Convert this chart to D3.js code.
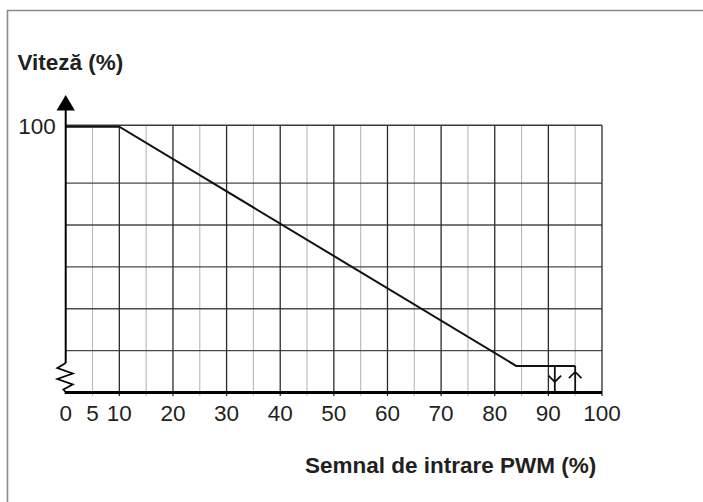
<!DOCTYPE html>
<html><head><meta charset="utf-8">
<script src="https://cdn.jsdelivr.net/npm/d3@7"></script>
<style>body{margin:0;background:#fff}svg{display:block}text{font-family:"Liberation Sans",Arial,Helvetica,sans-serif;fill:#231f20}</style>
</head><body><svg id="c" width="703" height="502"></svg>
<script>
// data
const xTicks = [0, 5, 10, 20, 30, 40, 50, 60, 70, 80, 90, 100];
const xGridMajor = [10, 20, 30, 40, 50, 60, 70, 80, 90, 100];
const xGridMinor = [5, 15, 25, 35, 45, 55, 65, 75, 85, 95];
const yGrid = [15.75, 31.5, 47.25, 63, 78.75];
const yTicks = [100];
const pwm = [0, 10, 84, 95];
const speed = [100, 100, 10, 10];
const hystDown = 91.2;   // arrow pointing down
const hystUp = 95;       // arrow pointing up
const xTitle = "Semnal de intrare PWM (%)";
const yTitle = "Viteză (%)";

const svg = d3.select("#c");
const x = d3.scaleLinear().domain([0, 100]).range([65.7, 602]);
const y = d3.scaleLinear().domain([0, 100.5]).range([392.5, 125.3]);
const yTop = y.range()[1], yBot = y.range()[0];

// outer frame (top and left only)
svg.append("path").attr("d", "M7.5,502V10.5H703").attr("fill", "none").attr("stroke", "#8a8a8a").attr("stroke-width", 1.6);

// minor vertical grid
svg.selectAll(".vmin").data(xGridMinor).join("line")
  .attr("x1", d => x(d)).attr("x2", d => x(d)).attr("y1", yTop).attr("y2", yBot + 3.5)
  .attr("stroke", "#b8b8b8").attr("stroke-width", 1.1);
// horizontal grid
svg.selectAll(".hg").data(yGrid).join("line")
  .attr("x1", x(0)).attr("x2", x(100)).attr("y1", d => y(d)).attr("y2", d => y(d))
  .attr("stroke", "#4a4a4a").attr("stroke-width", 1.3);
// major vertical grid
svg.selectAll(".vmaj").data(xGridMajor).join("line")
  .attr("x1", d => x(d)).attr("x2", d => x(d)).attr("y1", yTop).attr("y2", yBot + 3.5)
  .attr("stroke", "#2a2a2a").attr("stroke-width", 1.3);
// top border of plot
svg.append("line").attr("x1", x(0)).attr("x2", x(100)).attr("y1", yTop).attr("y2", yTop)
  .attr("stroke", "#3a3a3a").attr("stroke-width", 1.5);

// data line
const pts = pwm.map((p, i) => [x(p), y(speed[i])]);
svg.append("path").attr("d", d3.line()(pts)).attr("fill", "none")
  .attr("stroke", "#111").attr("stroke-width", 2).attr("stroke-linejoin", "miter");

// hysteresis arrows
const yMin = y(speed[speed.length - 1]);
function arrow(px, dir) {
  svg.append("line").attr("x1", x(px)).attr("x2", x(px)).attr("y1", yMin).attr("y2", yBot)
    .attr("stroke", "#111").attr("stroke-width", 1.8);
  // dir > 0: pointing down (tip near axis); dir < 0: pointing up (tip near line)
  const tip = dir > 0 ? yBot - 10.5 : yMin + 6;
  const back = tip - dir * 6.3;
  svg.append("path").attr("d", `M${x(px) - 6.3},${back}L${x(px)},${tip}L${x(px) + 6.3},${back}`)
    .attr("fill", "none").attr("stroke", "#111").attr("stroke-width", 1.8);
}
arrow(hystUp, -1);
arrow(hystDown, 1);

// x axis
svg.append("line").attr("x1", x(0) - 1).attr("x2", x(100)).attr("y1", yBot).attr("y2", yBot)
  .attr("stroke", "#000").attr("stroke-width", 3);

// y axis with break
const yBreakTop = 363;
svg.append("line").attr("x1", x(0)).attr("x2", x(0)).attr("y1", 109).attr("y2", yBreakTop)
  .attr("stroke", "#000").attr("stroke-width", 2);
const zig = [[0, 0], [-8.3, 5], [7, 10.5], [-8.3, 16], [7, 21.5], [-2.3, 26.5], [0, 29]];
svg.append("path").attr("d", d3.line()(zig.map(d => [x(0) + d[0], yBreakTop + d[1]])))
  .attr("fill", "none").attr("stroke", "#000").attr("stroke-width", 1.8).attr("stroke-linejoin", "miter");
svg.append("path").attr("d", `M${x(0)},95L${x(0) + 9.2},110.5L${x(0) - 9.2},110.5Z`).attr("fill", "#000");

// tick labels
svg.selectAll(".xt").data(xTicks).join("text")
  .attr("x", d => x(d)).attr("y", 421).attr("text-anchor", "middle")
  .attr("font-size", 22.5).text(d => d);
svg.selectAll(".yt").data(yTicks).join("text")
  .attr("x", x(0) - 10).attr("y", d => y(d) + 7.5).attr("text-anchor", "end")
  .attr("font-size", 22.5).text(d => d);

// titles
svg.append("text").attr("x", 17.5).attr("y", 69.5).attr("font-size", 22.5).attr("font-weight", "bold").text(yTitle);
svg.append("text").attr("x", 305).attr("y", 473).attr("font-size", 22.5).attr("font-weight", "bold").text(xTitle);
</script></body></html>
